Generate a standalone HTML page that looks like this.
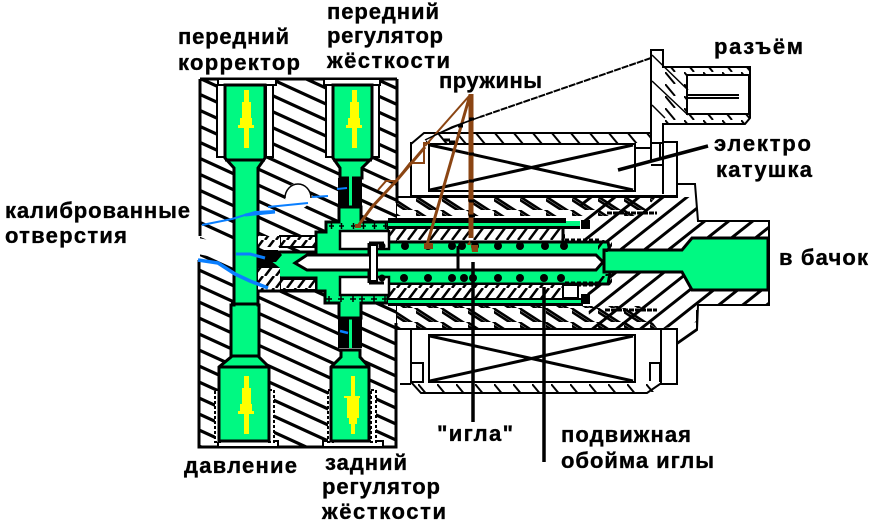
<!DOCTYPE html>
<html><head><meta charset="utf-8"><style>
html,body{margin:0;padding:0;background:#fff}
svg{display:block}
text{font-family:"Liberation Sans","DejaVu Sans",sans-serif;font-weight:bold;font-size:22px;fill:#000;stroke:#000;stroke-width:.35px}
</style></head><body>
<svg width="880" height="529" viewBox="0 0 880 529" xmlns="http://www.w3.org/2000/svg">
<defs>
<pattern id="h1" width="35" height="16" patternUnits="userSpaceOnUse" patternTransform="translate(0,3)">
<path d="M-35 -16L70 32M-35 0L70 48M-35 -32L70 16" stroke="#000" stroke-width="3.200" fill="none"/></pattern>
<pattern id="h2" width="24" height="19" patternUnits="userSpaceOnUse">
<path d="M0 19L24 0M-12 9.500L12 -9.500M12 28.500L36 9.500" stroke="#000" stroke-width="3" fill="none"/></pattern>
<pattern id="h3" width="26" height="14" patternUnits="userSpaceOnUse">
<path d="M-4 -2L30 20M-17 -7L17 15M9 -11L43 11" stroke="#000" stroke-width="2.600" fill="none"/></pattern>
<pattern id="h4" width="11" height="12" patternUnits="userSpaceOnUse">
<path d="M1 12L10 0" stroke="#000" stroke-width="2.500" fill="none"/></pattern>
<pattern id="h5" width="19" height="12" patternUnits="userSpaceOnUse">
<path d="M0 0L10 12" stroke="#000" stroke-width="2" fill="none"/></pattern>
</defs>

<!-- right body -->
<path d="M396 197H677V184H695L698 221H769V305H698L697 330L677 344V329H396Z" fill="#fff" stroke="#000" stroke-width="2"/>
<path d="M580 197H695L698 221H769V305H698L697 322L660 329H590Z" fill="url(#h2)"/>
<path d="M396 198H655L640 216H396Z" fill="url(#h3)"/>
<path d="M396 306H640L657 328H396Z" fill="url(#h3)"/>
<path d="M607 213H657M605 310H657" stroke="#000" stroke-width="3" stroke-dasharray="5 1" fill="none"/>

<!-- connector -->
<path d="M651 50H663V67H750V118L745 124H663V143H651Z" fill="#fff" stroke="#000" stroke-width="2"/>
<path d="M663 68H749V75H687V114H749V123H663Z" fill="url(#h5)"/>
<rect x="687" y="75" width="62" height="39" fill="#fff" stroke="#000" stroke-width="2"/>
<path d="M687 95H739M687 98H739" stroke="#000" stroke-width="2"/>
<path d="M652 81L688 115M652 55L688 90M652 105L665 118" stroke="#000" stroke-width="1.500"/>

<!-- top coil -->
<path d="M411 196V144L424 133H651V143H663V142H677V196Z" fill="#fff" stroke="#000" stroke-width="2"/>
<path d="M426 134H651V143H426Z" fill="url(#h5)"/>
<rect x="429" y="144" width="206" height="47" fill="#fff" stroke="#000" stroke-width="2"/>
<path d="M430 145L633 190M633 145L430 190" stroke="#000" stroke-width="3"/>
<path d="M663 143V194" stroke="#000" stroke-width="2"/>
<path d="M411 142V196M651 130V160M660 143V160M635 148H652M651 165H664" stroke="#000" stroke-width="2"/>

<!-- bottom coil -->
<path d="M411 329V382L421 393H647L660 384H677V329Z" fill="#fff" stroke="#000" stroke-width="2"/>
<path d="M414 384H655V392H420Z" fill="url(#h5)"/>
<rect x="429" y="335" width="206" height="47" fill="#fff" stroke="#000" stroke-width="2"/>
<path d="M430 336L633 381M633 336L430 381" stroke="#000" stroke-width="3"/>
<path d="M661 329V384" stroke="#000" stroke-width="2"/>
<path d="M411 363H423V382H411ZM650 381V363H660V382" fill="#fff" stroke="#000" stroke-width="2"/>
<path d="M400 384H411" stroke="#000" stroke-width="2"/>
<path d="M677 343L697 329L697 310" fill="none" stroke="#000" stroke-width="2"/>

<!-- left block -->
<rect x="200" y="79" width="196" height="368" fill="#fff"/>
<rect x="200" y="79" width="196" height="368" fill="url(#h1)"/>
<path d="M200 79H397M397 79V203M199 260V447H396V323M200 79V236" fill="none" stroke="#000" stroke-width="3"/>
<path d="M198 238L236 245V262L198 254Z" fill="#fff"/>

<!-- valve seats -->
<rect x="218" y="79" width="58" height="6" fill="#fff" stroke="#000" stroke-width="2"/>
<rect x="324" y="79" width="56" height="6" fill="#fff" stroke="#000" stroke-width="2"/>
<rect x="218" y="441" width="60" height="6" fill="#fff" stroke="#000" stroke-width="2"/>
<rect x="323" y="441" width="60" height="6" fill="#fff" stroke="#000" stroke-width="2"/>
<rect x="266" y="85" width="7" height="72" fill="#fff" stroke="#000" stroke-width="2"/>
<rect x="217" y="85" width="8" height="72" fill="#fff" stroke="#000" stroke-width="2"/>
<rect x="372" y="85" width="7" height="72" fill="#fff" stroke="#000" stroke-width="2"/>
<rect x="326" y="85" width="7" height="72" fill="#fff" stroke="#000" stroke-width="2"/>
<rect x="215" y="390" width="5" height="52" fill="#fff" stroke="#000" stroke-width="2" stroke-dasharray="3 2"/>
<rect x="269" y="390" width="5" height="52" fill="#fff" stroke="#000" stroke-width="2" stroke-dasharray="3 2"/>
<rect x="328" y="390" width="5" height="52" fill="#fff" stroke="#000" stroke-width="2" stroke-dasharray="3 2"/>
<rect x="371" y="390" width="5" height="52" fill="#fff" stroke="#000" stroke-width="2" stroke-dasharray="3 2"/>

<g stroke="#000" stroke-width="3" fill="#00f982">
<path d="M225 85H265V158L258 168V305H259V357L269 367V441H219V367L231 357V305H234V168L225 158Z"/>
<path d="M333 85H372V158L362 168V178H340V168L333 158Z"/>
<path d="M341 350V357L331 367V441H369V367L360 357V350Z"/>
</g>
<path d="M231 304H259M231 356H259M219 367H269M331 367H369M225 160H265M333 160H372" stroke="#000" stroke-width="3"/>

<!-- black cores -->
<rect x="338" y="178" width="24" height="30" fill="#000"/>
<rect x="338" y="318" width="24" height="30" fill="#000"/>
<rect x="349" y="176" width="3" height="32" fill="#00f982"/>
<rect x="349" y="318" width="3" height="30" fill="#00f982"/>

<!-- central green chamber -->
<path d="M339 207H361V222H388V303H361V318H339V303H325V291H316V278H280L270 268L262 262L270 258L280 252H316V232H326V222H339Z" fill="#00f982" stroke="#000" stroke-width="3"/>
<path d="M369 242H608L612 262L608 284H369Z" fill="#00f982" stroke="#000" stroke-width="3"/>
<rect x="388" y="218" width="178" height="5" fill="#000"/>
<path d="M388 223H566V221H580V227H388Z" fill="#00f982"/>
<rect x="388" y="226" width="192" height="3" fill="#000"/>
<rect x="388" y="298" width="195" height="2" fill="#000"/>
<rect x="388" y="300" width="195" height="3" fill="#00f982"/>
<rect x="388" y="303" width="195" height="3" fill="#000"/>

<!-- tail -->
<path d="M604 250H682L692 238H768V290H692L682 272H604Z" fill="#00f982" stroke="#000" stroke-width="3"/>

<!-- hatched sleeves -->
<rect x="389" y="229" width="176" height="11" fill="#fff"/>
<rect x="389" y="229" width="176" height="11" fill="url(#h4)"/>
<rect x="389" y="285" width="176" height="13" fill="#fff"/>
<rect x="389" y="285" width="176" height="13" fill="url(#h4)"/>
<path d="M565 241H600M565 284H600" stroke="#000" stroke-width="5" stroke-dasharray="4 2"/>
<path d="M563 285H578V298H563Z" fill="#fff" stroke="#000" stroke-width="2"/>
<path d="M563 229V241" stroke="#000" stroke-width="3"/>
<rect x="581" y="220" width="9" height="9" fill="#000"/>
<rect x="581" y="294" width="9" height="10" fill="#000"/>
<rect x="598" y="240" width="14" height="12" fill="url(#h4)"/>
<rect x="598" y="274" width="14" height="11" fill="url(#h4)"/>

<!-- white cavities -->
<rect x="340" y="231" width="49" height="18" fill="#fff" stroke="#000" stroke-width="2.500"/>
<rect x="340" y="277" width="49" height="18" fill="#fff" stroke="#000" stroke-width="2.500"/>
<path d="M369 243V283" stroke="#000" stroke-width="3"/>
<path d="M369 243H384M369 283H384" stroke="#000" stroke-width="3"/>

<!-- needle -->
<path d="M307 255H596L603 262L596 270H307L295 263Z" fill="#fff" stroke="#000" stroke-width="3"/>
<rect x="370" y="245" width="7" height="36" fill="#fff" stroke="#000" stroke-width="2"/>
<path d="M458 246V270" stroke="#000" stroke-width="3"/>

<!-- spring dots -->
<g fill="#000">
<circle cx="382" cy="246" r="3.500"/><circle cx="405" cy="246" r="4"/><circle cx="428" cy="246" r="4"/><circle cx="452" cy="246" r="4"/><circle cx="462" cy="246" r="4"/><circle cx="475" cy="246" r="4"/><circle cx="498" cy="246" r="4"/><circle cx="520" cy="246" r="4"/><circle cx="545" cy="246" r="4"/><circle cx="564" cy="246" r="4"/>
<circle cx="382" cy="278" r="3.500"/><circle cx="404" cy="278" r="4"/><circle cx="428" cy="278" r="4"/><circle cx="452" cy="278" r="4"/><circle cx="464" cy="278" r="4"/><circle cx="473" cy="278" r="4"/><circle cx="498" cy="278" r="4"/><circle cx="520" cy="278" r="4"/><circle cx="544" cy="278" r="4"/><circle cx="561" cy="278" r="4"/>
</g>
<g stroke="#000" stroke-width="1.500">
<path d="M329 226h5M331.500 223v6M339 226h5M341.500 223v6M351 226h5M353.500 223v6M361 226h5M363.500 223v6M372 226h5M374.500 223v6M383 226h5M385.500 223v6"/>
<path d="M326 299h6M329 296v6M338 299h6M341 296v6M350 299h6M353 296v6M359 299h6M362 296v6M371 299h6M374 296v6M382 299h6M385 296v6"/>
</g>

<!-- nozzle pieces -->
<rect x="280" y="236" width="36" height="11" fill="#fff" stroke="#000" stroke-width="2"/>
<rect x="280" y="236" width="36" height="11" fill="url(#h4)"/>
<rect x="258" y="236" width="22" height="11" fill="#fff"/>
<rect x="258" y="236" width="22" height="11" fill="url(#h4)"/>
<rect x="280" y="279" width="36" height="11" fill="#fff" stroke="#000" stroke-width="2"/>
<rect x="280" y="279" width="36" height="11" fill="url(#h4)"/>
<path d="M258 268H280V292H258Z" fill="#fff"/>
<path d="M258 268H280V292H258Z" fill="url(#h4)"/>
<path d="M258 250H278L282 255L276 262H258ZM258 260H270L280 268H258Z" fill="#000"/>
<path d="M257 291H316" stroke="#000" stroke-width="3"/>

<!-- circle -->
<circle cx="298" cy="196" r="13" fill="#fff"/>
<path d="M285 198A13 14 0 0 1 311 198" fill="none" stroke="#000" stroke-width="1.500"/>

<!-- yellow arrows -->
<g fill="#ff0">
<path d="M244 90H249V102H251V118H252V125H254V128H249V148H244V128H238V125H240V118H242V102H244Z"/>
<path d="M352 90H357V102H359V118H360V125H362V128H357V148H352V128H346V125H348V118H350V102H352Z"/>
<path d="M244 376H249V388H251V404H252V411H254V414H249V434H244V414H238V411H240V404H242V388H244Z"/>
<path d="M351 376H355V396H360V398H359V418H357V424H355V434H351V424H349V418H347V398H344V396H351Z"/>
</g>

<!-- brown leaders -->
<g stroke="#8b4513" fill="none">
<path d="M471 94V238" stroke-width="5"/>
<path d="M470 95L427 245" stroke-width="3"/>
<path d="M470 95L425 146" stroke-width="2"/>
<path d="M425 147L397 180L372 207L358 226" stroke-width="3"/>
<path d="M430 143H424V163H410L396 181M396 181H386L378 190" stroke-width="2"/>
</g>
<path d="M467 245H478V252H472L470 240ZM424 243H433V249H424ZM355 224H361V228H355Z" fill="#8b4513"/>
<path d="M469 119h5M469 154h5M469 181h5M469 201h5M469 216h6M458 126h5M444 140h6M449 142h6" stroke="#000" stroke-width="3"/>

<!-- connector leader -->
<path d="M651 58L480 117" stroke="#000" stroke-width="2" stroke-dasharray="7 1"/>
<path d="M480 117L452 127L425 140" stroke="#000" stroke-width="1.500"/>
<!-- coil leader -->
<path d="M618 170L708 146" stroke="#000" stroke-width="3.500"/>

<!-- blue -->
<g stroke="#0a7fff" fill="none" stroke-linejoin="round">
<path d="M202 225L232 219L245 215L255 212L275 211" stroke-width="2"/>
<path d="M245 215L275 212" stroke-width="3"/>
<path d="M268 207L308 203M312 197L328 196M337 189L347 188" stroke-width="2"/>
<path d="M236 254L250 254L265 258" stroke-width="3"/>
<path d="M198 260L218 263L235 274L250 281L268 288" stroke-width="3.500"/>
<path d="M340 331L348 333" stroke-width="2.500"/>
</g>

<!-- needle/sleeve leaders -->
<path d="M473 262V422" stroke="#000" stroke-width="3.500"/>
<path d="M544 287V462" stroke="#000" stroke-width="3.500"/>

<!-- labels -->
<text x="178" y="44" textLength="111" lengthAdjust="spacing">передний</text>
<text x="178" y="70" textLength="122" lengthAdjust="spacing">корректор</text>
<text x="327" y="19" textLength="112" lengthAdjust="spacing">передний</text>
<text x="327" y="43" textLength="116" lengthAdjust="spacing">регулятор</text>
<text x="327" y="68" textLength="123" lengthAdjust="spacing">жёсткости</text>
<text x="439" y="88" textLength="103" lengthAdjust="spacing">пружины</text>
<text x="714" y="54" textLength="89" lengthAdjust="spacing">разъём</text>
<text x="714" y="151" textLength="97" lengthAdjust="spacing">электро</text>
<text x="716" y="177" textLength="96" lengthAdjust="spacing">катушка</text>
<text x="5" y="218" textLength="185" lengthAdjust="spacing">калиброванные</text>
<text x="5" y="243" textLength="122" lengthAdjust="spacing">отверстия</text>
<text x="779" y="265" textLength="89" lengthAdjust="spacing">в бачок</text>
<text x="437" y="441" textLength="76" lengthAdjust="spacing">"игла"</text>
<text x="561" y="442" textLength="130" lengthAdjust="spacing">подвижная</text>
<text x="561" y="468" textLength="153" lengthAdjust="spacing">обойма иглы</text>
<text x="184" y="473" textLength="113" lengthAdjust="spacing">давление</text>
<text x="325" y="470" textLength="82" lengthAdjust="spacing">задний</text>
<text x="322" y="494" textLength="118" lengthAdjust="spacing">регулятор</text>
<text x="322" y="519" textLength="124" lengthAdjust="spacing">жёсткости</text>
</svg>
</body></html>
